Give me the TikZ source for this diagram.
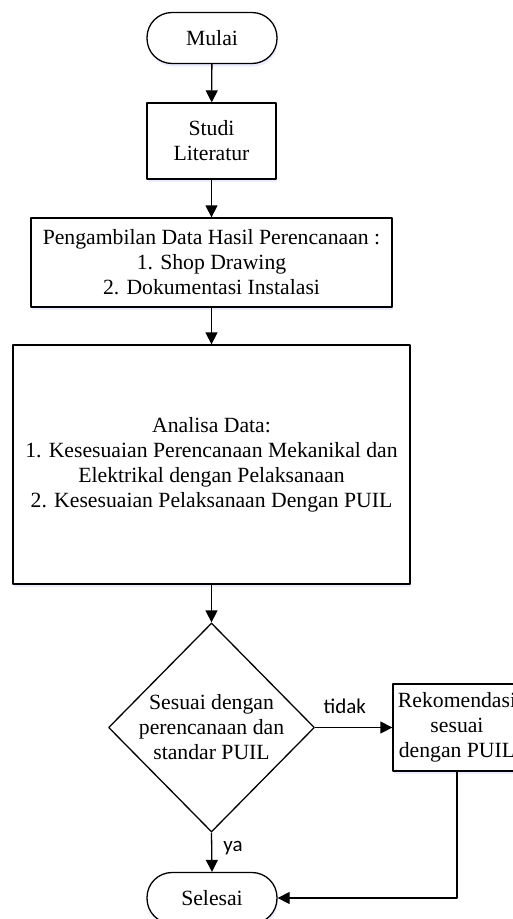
\documentclass[tikz,border=0pt]{standalone}
\usepackage{fontspec}
\setmainfont{Liberation Serif}
\newfontfamily\lblfont{Carlito}
\usetikzlibrary{arrows.meta,shapes.geometric,shadows}
\tikzset{
  boxshadow/.style={drop shadow={shadow xshift=1pt,shadow yshift=-3pt,fill=blue!25,opacity=0.3}},
  terminal/.style={draw,fill=white,boxshadow,rounded corners=25pt,minimum width=130pt,minimum height=51pt,inner sep=0pt,align=center},
  prosesbox/.style={draw,fill=white,boxshadow,inner sep=0pt,align=center},
  cabang/.style={draw,fill=white,diamond,aspect=1,inner sep=0pt,minimum width=206pt,minimum height=209pt},
  alur/.style={-{Triangle[length=12pt,width=12pt]}},
  ket/.style={font=\lblfont\fontsize{21}{24}\selectfont,inner sep=0pt}
}
\begin{document}
\begin{tikzpicture}[x=1pt,y=-1pt,line width=1.3pt,line join=round,font=\fontsize{21.7}{25}\selectfont]
\useasboundingbox (0,0) rectangle (512,919);
\node[terminal] (mulai) at (212,38) {Mulai};
\node[prosesbox,minimum width=129pt,minimum height=76pt] (studi) at (211.5,141) {Studi\\Literatur};
\node[prosesbox,minimum width=361pt,minimum height=89pt] (ambil) at (211.5,262.5)
  {Pengambilan Data Hasil Perencanaan :\\1. Shop Drawing\\2. Dokumentasi Instalasi};
\node[prosesbox,minimum width=397pt,minimum height=239pt] (analisa) at (211.5,464.5)
  {Analisa Data:\\1. Kesesuaian Perencanaan Mekanikal dan\\Elektrikal dengan Pelaksanaan\\2. Kesesuaian Pelaksanaan Dengan PUIL};
\node[cabang] (cek) at (211.5,727.5) {};
\node[align=center,inner sep=0pt] (cektext) at (cek.center) {Sesuai dengan\\perencanaan dan\\standar PUIL};
\node[prosesbox,minimum width=128pt,minimum height=87pt] (reko) at (457,727.5) {Rekomendasi\\sesuai\\dengan PUIL};
\node[terminal] (selesai) at (212,898) {Selesai};
% alur utama
\draw[alur] (mulai) -- (studi);
\draw[alur] (studi) -- (ambil);
\draw[alur] (ambil) -- (analisa);
\draw[alur] (analisa) -- (cek);
\draw[alur] (cek.east) -- node[ket,above=13pt,xshift=-9pt] {tidak} (reko.west);
\draw[alur] (cek.south) -- node[ket,right=11pt,pos=0.4] {ya} (selesai.north);
\draw[alur] (reko.south) |- (selesai.east);
\end{tikzpicture}
\end{document}
